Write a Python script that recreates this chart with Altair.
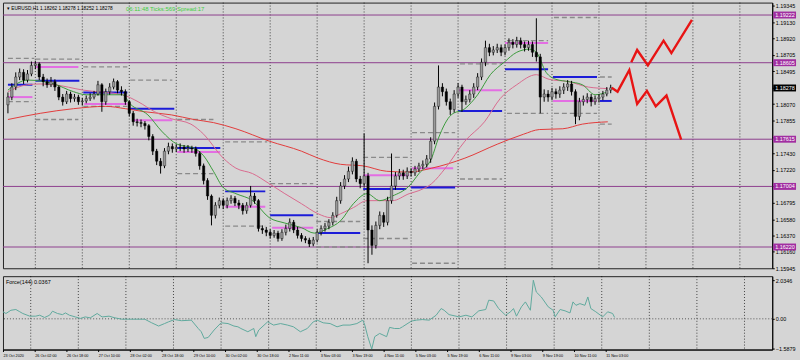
import altair as alt
import pandas as pd

# ---------------- data ----------------
# candles, one per 2 hours, hour index counted from 23 Oct 2020 (x = 0)
candle_hours = 2
first_open = 1.1806
close = [
    1.1816,1.1829,1.1842,1.1848,1.1838,1.1846,1.1857,1.1859,1.1842,1.1836,
    1.1832,1.1836,1.1829,1.1816,1.1810,1.1820,1.1814,1.1816,1.1810,1.1811,
    1.1814,1.1816,1.1820,1.1832,1.1810,1.1823,1.1829,1.1836,1.1825,1.1823,
    1.1810,1.1795,1.1784,1.1783,1.1782,1.1779,1.1765,1.1746,1.1733,1.1727,
    1.1746,1.1752,1.1749,1.1751,1.1751,1.1749,1.1750,1.1749,1.1743,1.1727,
    1.1708,1.1688,1.1663,1.1676,1.1682,1.1676,1.1682,1.1685,1.1679,1.1676,
    1.1669,1.1676,1.1688,1.1682,1.1646,1.1644,1.1641,1.1637,1.1640,1.1633,
    1.1641,1.1646,1.1654,1.1644,1.1637,1.1633,1.1631,1.1626,1.1631,1.1641,
    1.1646,1.1649,1.1654,1.1663,1.1682,1.1701,1.1710,1.1720,1.1733,1.1710,
    1.1704,1.1714,1.1644,1.1624,1.1650,1.1663,1.1654,1.1682,1.1701,1.1714,
    1.1718,1.1714,1.1720,1.1718,1.1723,1.1727,1.1729,1.1736,1.1759,1.1804,
    1.1829,1.1823,1.1810,1.1800,1.1820,1.1829,1.1810,1.1813,1.1820,1.1829,
    1.1842,1.1861,1.1880,1.1874,1.1877,1.1880,1.1874,1.1880,1.1887,1.1884,
    1.1889,1.1884,1.1880,1.1884,1.1874,1.1868,1.1816,1.1820,1.1816,1.1823,
    1.1820,1.1825,1.1829,1.1833,1.1823,1.1791,1.1810,1.1813,1.1816,1.1810,
    1.1814,1.1816,1.1820,1.1825,1.1828,
]
high = [
    1.1822,1.1834,1.1848,1.1853,1.1852,1.1851,1.1862,1.1863,1.1861,1.1846,
    1.1840,1.1842,1.1839,1.1831,1.1820,1.1824,1.1823,1.1820,1.1819,1.1815,
    1.1818,1.1821,1.1824,1.1837,1.1834,1.1827,1.1834,1.1840,1.1838,1.1830,
    1.1826,1.1812,1.1798,1.1788,1.1787,1.1785,1.1781,1.1768,1.1749,1.1737,
    1.1750,1.1757,1.1756,1.1755,1.1756,1.1754,1.1754,1.1753,1.1752,1.1746,
    1.1730,1.1711,1.1690,1.1680,1.1686,1.1685,1.1686,1.1689,1.1688,1.1683,
    1.1679,1.1680,1.1701,1.1692,1.1684,1.1650,1.1648,1.1645,1.1644,1.1643,
    1.1645,1.1651,1.1659,1.1657,1.1648,1.1640,1.1636,1.1634,1.1635,1.1645,
    1.1650,1.1653,1.1658,1.1667,1.1687,1.1706,1.1715,1.1726,1.1738,1.1736,
    1.1714,1.1769,1.1718,1.1650,1.1655,1.1668,1.1667,1.1687,1.1743,1.1719,
    1.1723,1.1722,1.1725,1.1724,1.1727,1.1731,1.1734,1.1741,1.1764,1.1809,
    1.1857,1.1834,1.1827,1.1814,1.1825,1.1834,1.1832,1.1818,1.1825,1.1834,
    1.1847,1.1866,1.1889,1.1885,1.1882,1.1885,1.1884,1.1884,1.1892,1.1891,
    1.1894,1.1893,1.1888,1.1889,1.1888,1.1918,1.1872,1.1826,1.1825,1.1828,
    1.1827,1.1830,1.1834,1.1838,1.1837,1.1826,1.1815,1.1818,1.1821,1.1820,
    1.1818,1.1820,1.1824,1.1829,1.1832,
]
low = [
    1.1795,1.1812,1.1825,1.1838,1.1833,1.1835,1.1843,1.1852,1.1838,1.1830,
    1.1828,1.1829,1.1824,1.1812,1.1805,1.1807,1.1809,1.1810,1.1806,1.1805,
    1.1808,1.1811,1.1813,1.1818,1.1797,1.1806,1.1819,1.1826,1.1821,1.1818,
    1.1806,1.1791,1.1779,1.1778,1.1777,1.1774,1.1760,1.1741,1.1728,1.1717,
    1.1724,1.1742,1.1744,1.1745,1.1746,1.1744,1.1745,1.1744,1.1739,1.1722,
    1.1703,1.1683,1.1650,1.1659,1.1672,1.1671,1.1672,1.1678,1.1675,1.1671,
    1.1664,1.1665,1.1673,1.1678,1.1642,1.1639,1.1636,1.1633,1.1634,1.1629,
    1.1630,1.1637,1.1642,1.1640,1.1633,1.1629,1.1627,1.1622,1.1623,1.1628,
    1.1637,1.1642,1.1645,1.1650,1.1660,1.1678,1.1697,1.1706,1.1716,1.1706,
    1.1698,1.1700,1.1601,1.1612,1.1620,1.1645,1.1648,1.1650,1.1678,1.1696,
    1.1709,1.1709,1.1710,1.1713,1.1714,1.1719,1.1723,1.1725,1.1731,1.1755,
    1.1800,1.1817,1.1805,1.1793,1.1796,1.1815,1.1797,1.1806,1.1809,1.1815,
    1.1825,1.1838,1.1856,1.1869,1.1870,1.1873,1.1869,1.1870,1.1876,1.1879,
    1.1880,1.1879,1.1875,1.1876,1.1868,1.1862,1.1795,1.1810,1.1810,1.1812,
    1.1814,1.1815,1.1820,1.1824,1.1818,1.1781,1.1786,1.1805,1.1808,1.1804,
    1.1806,1.1809,1.1812,1.1817,1.1821,
]

# moving averages (hour index, price)
fast_idx = [0,10,23.5,33.5,40,58.5,62.5,71.5,78.5,86.5,95,100,105,110,116.5,125,133.5,141.5,150,156.5,
            163.5,170,176.5,183.5,190,196.5,205,210,216.5,220,226.5,233.5,240,246.5,253.5,260,266.5,270,
            275,280,286.5,293.5,300,306.5]
fast_val = [1.1825,1.1838,1.1833,1.1823,1.1819,1.1819,1.1807,1.1793,1.1772,1.1755,1.1750,1.1740,1.1720,
            1.1699,1.1691,1.1682,1.1660,1.1653,1.1647,1.1640,1.1646,1.1656,1.1678,1.1691,1.1682,1.1688,
            1.1701,1.1717,1.1737,1.1763,1.1793,1.1801,1.1819,1.1845,1.1861,1.1874,1.1878,1.1874,1.1848,
            1.1839,1.1836,1.1832,1.1819,1.1823]
mid_idx = [0,10,16.5,23.5,38.5,58.5,66.5,75,83.5,93.5,100,110,116.5,125,133.5,141.5,150,158.5,165,170,
           176.5,183.5,196.5,205,210,216.5,223.5,233.5,243.5,251.5,260,270,276.5,286.5,296.5,306.5]
mid_val = [1.1823,1.1832,1.1833,1.1832,1.1825,1.1819,1.1810,1.1797,1.1788,1.1781,1.1768,1.1737,1.1724,
           1.1717,1.1704,1.1691,1.1678,1.1665,1.1660,1.1665,1.1673,1.1682,1.1682,1.1691,1.1695,1.1704,
           1.1724,1.1759,1.1784,1.1814,1.1832,1.1845,1.1839,1.1836,1.1829,1.1827]
slow_idx = [0,16.5,33.5,50,60,70,83.5,95,105,116.5,133.5,150,158.5,170,181.5,193.5,205,216.5,233.5,250,
            263.5,271.5,283.5,293.5,306.5]
slow_val = [1.1787,1.1795,1.1801,1.1804,1.1801,1.1797,1.1793,1.1787,1.1783,1.1775,1.1759,1.1746,1.1737,
            1.1729,1.1727,1.1720,1.1719,1.1724,1.1737,1.1755,1.1768,1.1774,1.1775,1.1781,1.1784]

# daily level segments
blue_start = [0,14,38.5,62.5,86.5,111,134,157.5,181.5,206,230,254,278.5,302.5]
blue_end = [12.5,36.5,61,85,108.5,131.5,156,180,203.5,228.5,252.5,276,301,308.5]
blue_price = [1.1832,1.1837,1.1822,1.1801,1.1750,1.1694,1.1663,1.1640,1.1697,1.1699,1.1798,1.1852,1.1842,1.1811]
pink_start = [0,14,39,63.5,86.5,111,135,181.5,206.5,230,254,278.5]
pink_end = [12.5,36,61,84,108.5,131.5,156,205,227.5,252.5,276,301]
pink_price = [1.1816,1.1855,1.1807,1.1786,1.1745,1.1674,1.1647,1.1715,1.1724,1.1825,1.1886,1.1811]
gray_start = [0,0,14,14,38.5,38.5,62.5,86.5,86.5,111,111,134,157.5,157.5,181.5,181.5,206.5,206.5,
              231,231,255,255,279,279,302.5,302.5]
gray_end = [13.5,12.5,36.5,36,61,61,84,105,105,132.5,131.5,156,180,180,205,205,228.5,228.5,
            252.5,252.5,276,276,301,301,308.5,308.5]
gray_price = [1.1866,1.1810,1.1865,1.1787,1.1855,1.1804,1.1838,1.1787,1.1717,1.1758,1.1649,1.1704,
              1.1655,1.1622,1.1738,1.1633,1.1770,1.1601,1.1859,1.1710,1.1795,1.1889,1.1919,1.1795,
              1.1842,1.1781]

# horizontal levels and current price
levels = [1.19222, 1.18605, 1.17615, 1.17004, 1.16220]
current_price = 1.18278

# projected zig-zags
up_idx = [318.5, 321.5, 327, 335, 339, 349.5]
up_val = [1.1861, 1.1877, 1.1857, 1.1889, 1.1873, 1.1916]
dn_idx = [308.5, 311.5, 317.5, 321.5, 326.5, 331, 336.5, 344]
dn_val = [1.1828, 1.1823, 1.1851, 1.1807, 1.1824, 1.1804, 1.1818, 1.1761]

# Force(144) oscillator
force_idx = [0,1.5,4,6.5,8.5,10,13.5,16.5,18.5,21,23.5,25,27.5,30,31.5,33.5,36.5,39,41.5,44,47.5,50,
             53.5,56.5,60,63.5,71.5,75,78.5,81.5,83.5,86.5,90,95,98.5,100,101.5,103.5,106.5,110,113.5,
             116.5,118.5,120,123.5,126.5,127.5,129,133.5,136.5,140,143.5,146.5,150,153.5,156.5,158.5,
             161.5,165,168.5,171.5,175,178.5,181.5,182.5,184,186,187.5,190,193.5,195,197.5,200,201.5,
             206,208.5,211.5,215,218.5,221,222.5,225,228.5,230,233.5,236.5,240,243.5,245,247.5,250,
             253.5,256,257.5,259,261.5,263.5,266,267.5,269,271.5,275,277.5,278.5,281,283.5,286,287.5,
             289,291,293.5,295,296.5,299,302.5,305,307.5,308.5]
force_val = [0.37,0.28,0.45,0.49,0.37,0.28,0.14,0.14,0.19,0.07,0.19,0.40,0.28,0.22,0.31,0.19,0.10,0.02,
             0.10,0.05,0.28,0.10,0.14,0.05,-0.02,-0.02,-0.02,-0.21,-0.38,-0.25,-0.16,-0.04,-0.10,-0.07,
             -0.51,-0.68,-1.03,-0.98,-0.59,-0.21,-0.25,-0.38,-0.42,-0.51,-0.68,-0.51,-0.94,-0.59,-0.16,
             -0.33,-0.25,-0.33,-0.42,-0.68,-0.51,-0.16,-0.07,-0.21,-0.25,-0.42,-0.33,-0.33,-0.25,-0.07,
             -0.33,-0.94,-1.59,-0.94,-0.77,-0.94,-0.45,-0.51,-0.51,-0.42,-0.12,-0.07,-0.04,-0.07,0.19,
             0.54,0.45,0.22,0.14,0.10,0.19,0.10,0.42,0.49,0.98,0.94,0.54,0.19,0.37,0.54,0.14,0.63,0.89,
             0.45,2.03,1.41,1.15,0.63,0.45,0.10,0.49,0.42,0.31,0.89,0.71,0.80,0.71,1.15,0.54,0.37,0.10,
             0.37,0.28,0.07]

# calendar: day boundaries and time labels (hour index)
day_starts = [14,38,62,86,110,134,158,182,206,230,254,278,302,326,350,374]
time_idx = [0,16,32,48,64,80,96,112,128,144,160,176,192,208,224,240,256,272,288,304]
time_text = ["23 Oct 2020","26 Oct 02:00","26 Oct 18:00","27 Oct 10:00","28 Oct 02:00","28 Oct 18:00",
             "29 Oct 10:00","30 Oct 02:00","30 Oct 18:00","2 Nov 11:00","3 Nov 03:00","3 Nov 19:00",
             "4 Nov 11:00","5 Nov 03:00","5 Nov 19:00","6 Nov 11:00","9 Nov 03:00","9 Nov 19:00",
             "10 Nov 11:00","11 Nov 03:00"]
price_ticks = [1.19345,1.19130,1.18920,1.18705,1.18495,1.18280,1.18070,1.17855,1.17640,1.17430,
               1.17220,1.17005,1.16795,1.16580,1.16370,1.16160,1.15945]
force_ticks = [2.0346, 0.0, -1.5879]

header_symbol = "\u25be EURUSD,H1  1.18262 1.18278 1.18252 1.18278"
header_timer = "06:11:48 Ticks:569 Spread:17"
force_title = "Force(144) 0.0367"

# ---------------- tables ----------------
opens = [first_open] + close[:-1]
candles = pd.DataFrame({
    "t": [i * candle_hours for i in range(len(close))],
    "open": opens, "close": close,
    "high": [max(h, o, c) for h, o, c in zip(high, opens, close)],
    "low": [min(l, o, c) for l, o, c in zip(low, opens, close)],
})
candles["dir"] = ["up" if c >= o else "down" for o, c in zip(opens, close)]

ma = pd.concat([
    pd.DataFrame({"t": slow_idx, "v": slow_val, "s": "slow"}),
    pd.DataFrame({"t": mid_idx, "v": mid_val, "s": "mid"}),
    pd.DataFrame({"t": fast_idx, "v": fast_val, "s": "fast"}),
])
zig = pd.concat([
    pd.DataFrame({"t": up_idx, "v": up_val, "s": "up"}),
    pd.DataFrame({"t": dn_idx, "v": dn_val, "s": "dn"}),
])
blue = pd.DataFrame({"a": blue_start, "b": blue_end, "p": blue_price})
pink = pd.DataFrame({"a": pink_start, "b": pink_end, "p": pink_price})
gray = pd.DataFrame({"a": gray_start, "b": gray_end, "p": gray_price})
lv = pd.DataFrame({"p": levels})
lv["lab"] = [f"{v:.5f}" for v in levels]
cur = pd.DataFrame({"p": [current_price], "lab": [f"{current_price:.5f}"]})
days = pd.DataFrame({"t": day_starts})
force = pd.DataFrame({"t": force_idx, "v": force_val})

# ---------------- scales / axes ----------------
W = 776
xs = alt.Scale(domain=[0, 388], nice=False, zero=False)
ys = alt.Scale(domain=[1.15945, 1.19383], nice=False, zero=False)
fs = alt.Scale(domain=[-1.617, 2.243], nice=False, zero=False)
font = "Liberation Sans"

y_axis = alt.Axis(orient="right", values=price_ticks, format=".5f", title=None, grid=False,
                  labelFontSize=5.5, labelFont=font, tickSize=2, labelPadding=1, labelColor="#000",
                  tickColor="#000", domainColor="#000", labelOverlap=False, labelFlush=False,
                  labelBound=False, minExtent=24)
f_axis = alt.Axis(orient="right", values=force_ticks, title=None, grid=False,
                  labelExpr="datum.value == 0 ? '0.00' : format(datum.value, '.4f')",
                  labelFontSize=5.5, labelFont=font, tickSize=2, labelPadding=1, labelColor="#000",
                  tickColor="#000", domainColor="#000", labelOverlap=False, labelFlush=False, minExtent=24)
lab_js = "[" + ",".join("'" + s + "'" for s in time_text) + "]"
x_axis = alt.Axis(values=time_idx, title=None, grid=False, labelAlign="left",
                  labelExpr=lab_js + "[round(datum.value/16)]",
                  labelFontSize=3.8, labelFont=font, tickSize=2, labelPadding=2, labelColor="#000",
                  tickColor="#000", domainColor="#000", labelOverlap=False, labelFlush=False, minExtent=15)


def X(f):
    return alt.X(f, type="quantitative", scale=xs, axis=None)


def Y(f):
    return alt.Y(f, type="quantitative", scale=ys, axis=y_axis)


grid = alt.Chart(days).mark_rule(color="#000", strokeDash=[1, 2], strokeWidth=1, opacity=0.7).encode(x=X("t"))
lvl = alt.Chart(lv).mark_rule(color="#8e3f8e", strokeWidth=1).encode(y=Y("p"))
gray_l = alt.Chart(gray).mark_rule(color="#8a8a8a", strokeDash=[5, 3], strokeWidth=1.3).encode(
    x=X("a"), x2="b", y=Y("p"))
pink_l = alt.Chart(pink).mark_rule(color="#e36ee3", strokeWidth=2).encode(x=X("a"), x2="b", y=Y("p"))
blue_l = alt.Chart(blue).mark_rule(color="#1c1cd8", strokeWidth=2).encode(x=X("a"), x2="b", y=Y("p"))
ma_l = alt.Chart(ma).mark_line(strokeWidth=1, interpolate="monotone").encode(
    x=X("t"), y=Y("v"),
    color=alt.Color("s:N", scale=alt.Scale(domain=["slow", "mid", "fast"],
                                             range=["#e23b3b", "#d96a8e", "#3b9a3b"]), legend=None),
    detail="s:N")
wick = alt.Chart(candles).mark_rule(color="#000", strokeWidth=1).encode(x=X("t"), y=Y("low"), y2="high")
body = alt.Chart(candles).mark_bar(size=2.4, stroke="#000", strokeWidth=0.4).encode(
    x=X("t"), y=Y("open"), y2="close",
    color=alt.Color("dir:N", scale=alt.Scale(domain=["up", "down"], range=["#9a9a9a", "#000000"]),
                    legend=None))
zig_l = alt.Chart(zig).mark_line(color="#e81414", strokeWidth=2.4).encode(
    x=X("t"), y=Y("v"), detail="s:N")
lv_box = alt.Chart(lv).mark_rule(color="#a12ea1", strokeWidth=7).encode(
    x=alt.value(W + 1), x2=alt.value(W + 24), y=Y("p"))
lv_txt = alt.Chart(lv).mark_text(align="left", baseline="middle", fontSize=5.5, font=font,
                                 color="#ffffff").encode(x=alt.value(W + 3), y=Y("p"), text="lab:N")
cur_box = alt.Chart(cur).mark_rule(color="#000000", strokeWidth=7).encode(
    x=alt.value(W + 1), x2=alt.value(W + 24), y=Y("p"))
cur_txt = alt.Chart(cur).mark_text(align="left", baseline="middle", fontSize=5.5, font=font,
                                   color="#ffffff").encode(x=alt.value(W + 3), y=Y("p"), text="lab:N")
hdr = pd.DataFrame({"a": [header_symbol], "b": [header_timer]})
hdr1 = alt.Chart(hdr).mark_text(align="left", baseline="middle", fontSize=4.8, font=font,
                                color="#000").encode(x=alt.value(4), y=alt.value(6), text="a:N")
hdr2 = alt.Chart(hdr).mark_text(align="left", baseline="middle", fontSize=6, font=font,
                                color="#3fcf3f").encode(x=alt.value(124), y=alt.value(6), text="b:N")

main = alt.layer(grid, lvl, gray_l, pink_l, blue_l, ma_l, wick, body, zig_l,
                 lv_box, lv_txt, cur_box, cur_txt, hdr1, hdr2).resolve_scale(color="independent").properties(
    width=W, height=268)

fx = alt.X("t", type="quantitative", scale=xs, axis=x_axis)
fy = alt.Y("v", type="quantitative", scale=fs, axis=f_axis)
zero = pd.DataFrame({"v": [0.0]})
grid2 = alt.Chart(days).mark_rule(color="#000", strokeDash=[1, 2], strokeWidth=1, opacity=0.7).encode(x=fx)
zero_l = alt.Chart(zero).mark_rule(color="#555", strokeDash=[1, 2], strokeWidth=1).encode(y=fy)
force_l = alt.Chart(force).mark_line(color="#5fa99d", strokeWidth=1).encode(x=fx, y=fy)
ftitle = alt.Chart(pd.DataFrame({"a": [force_title]})).mark_text(
    align="left", baseline="middle", fontSize=5.5, font=font, color="#000").encode(
    x=alt.value(3), y=alt.value(6), text="a:N")
lower = alt.layer(grid2, zero_l, force_l, ftitle).properties(width=W, height=74)

chart = alt.vconcat(main, lower, spacing=3).properties(padding=0).configure(
    background="#d5d5d5", font=font).configure_view(stroke="#222", strokeWidth=1)

chart.save("out.html", embed_options={"renderer": "svg", "actions": False})
